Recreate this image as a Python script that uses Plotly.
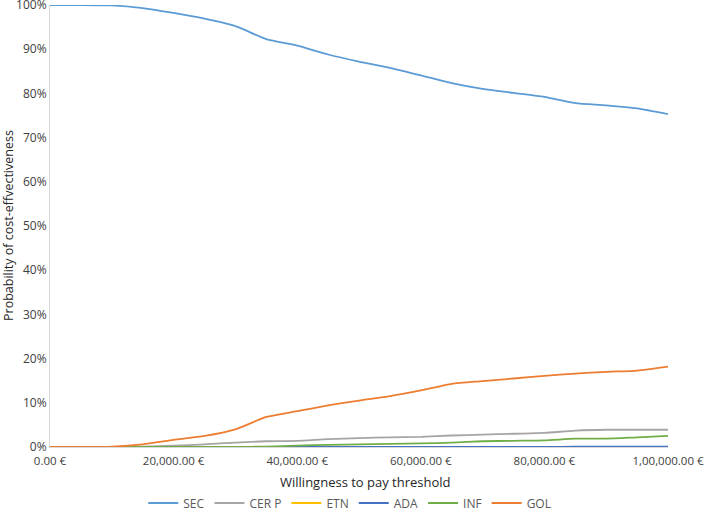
import plotly.graph_objects as go

wtp = [0, 5000, 10000, 15000, 20000, 25000, 30000, 35000, 40000, 45000, 50000,
       55000, 60000, 65000, 70000, 75000, 80000, 85000, 90000, 95000, 100000]

sec = [100.0, 100.0, 99.9, 99.3, 98.2, 96.9, 95.2, 92.3, 90.8, 88.8, 87.2,
       85.8, 84.1, 82.3, 81.0, 80.1, 79.2, 77.8, 77.3, 76.6, 75.3]
cer_p = [0.0, 0.0, 0.0, 0.1, 0.3, 0.6, 1.0, 1.3, 1.4, 1.8, 2.0,
         2.2, 2.3, 2.6, 2.8, 3.0, 3.2, 3.7, 3.9, 3.9, 3.9]
etn = [0.0] * 21
ada = [0.0, 0.0, 0.0, 0.0, 0.0, 0.0, 0.0, 0.0, 0.0, 0.0, 0.0,
       0.0, 0.0, 0.0, 0.0, 0.0, 0.0, 0.1, 0.1, 0.1, 0.1]
inf = [0.0, 0.0, 0.0, 0.0, 0.0, 0.0, 0.0, 0.1, 0.3, 0.5, 0.6,
       0.7, 0.8, 1.0, 1.3, 1.4, 1.5, 1.9, 1.9, 2.2, 2.5]
gol = [0.0, 0.0, 0.1, 0.6, 1.6, 2.5, 4.0, 6.8, 8.1, 9.4, 10.5,
       11.5, 12.8, 14.3, 14.9, 15.5, 16.1, 16.6, 17.0, 17.3, 18.2]

series_names = ["SEC", "CER P", "ETN", "ADA", "INF", "GOL"]
series_values = [sec, cer_p, etn, ada, inf, gol]
series_colors = ["#5B9BD5", "#A5A5A5", "#FFC000", "#4472C4", "#70AD47", "#ED7D31"]

x_tick_vals = [0, 20000, 40000, 60000, 80000, 100000]
x_tick_text = ["0.00 €", "20,000.00 €", "40,000.00 €", "60,000.00 €",
               "80,000.00 €", "1,00,000.00 €"]

FONT = "Open Sans"
TXT = "#404040"

fig = go.Figure()
for name, vals, col in zip(series_names, series_values, series_colors):
    fig.add_trace(go.Scatter(
        x=wtp, y=[v / 100 for v in vals], name=name, mode="lines",
        line=dict(color=col, width=1.8, shape="spline", smoothing=0.6),
    ))

fig.update_layout(
    width=705, height=516,
    margin=dict(l=50, r=37, t=5, b=69, autoexpand=False),
    paper_bgcolor="white", plot_bgcolor="white",
    font=dict(family=FONT, size=12, color=TXT),
    showlegend=True,
    legend=dict(orientation="h", x=0.485, xanchor="center",
                yref="container", y=(516 - 503) / 516, yanchor="middle",
                font=dict(size=12, color="#595959"), itemwidth=30,
                traceorder="normal", tracegroupgap=0),
    xaxis=dict(range=[0, 100000], tickvals=x_tick_vals, ticktext=x_tick_text,
               showgrid=False, zeroline=False, showline=True, linecolor="#D9D9D9",
               linewidth=1, ticks="", automargin=False, ticklabeloverflow="allow",
               ticklabelstandoff=3, tickfont=dict(size=11.5, color=TXT)),
    yaxis=dict(range=[0, 1], dtick=0.1, tickformat=".0%", showgrid=False,
               zeroline=False, showline=True, linecolor="#D9D9D9", linewidth=1,
               ticks="", automargin=False, ticklabeloverflow="allow",
               tickfont=dict(size=12, color=TXT)),
    annotations=[
        dict(text="Willingness to pay threshold", xref="paper", yref="paper",
             x=0.51, y=(447 - 482) / 442, xanchor="center", yanchor="middle",
             showarrow=False, font=dict(size=13, color="#262626")),
        dict(text="Probability of cost-effvectiveness", xref="paper", yref="paper",
             x=-42 / 618, y=0.5, xanchor="center", yanchor="middle", textangle=-90,
             showarrow=False, font=dict(size=12.5, color="#262626")),
    ],
)

fig.write_html("out.html", config={"displayModeBar": False},
               post_script="document.body.style.margin='0px';")
